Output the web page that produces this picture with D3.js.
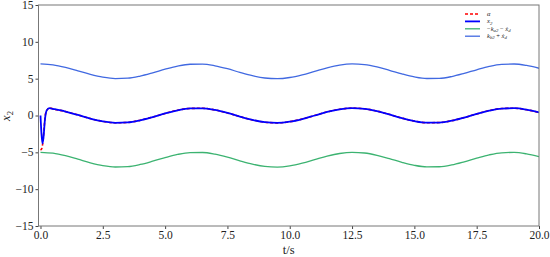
<!DOCTYPE html>
<html><head><meta charset="utf-8">
<script src="https://cdn.jsdelivr.net/npm/d3@7"></script>
<style>body{margin:0;background:#fff}svg{display:block}</style>
</head><body>
<svg id="c" width="550" height="257"></svg>
<script>
// time grid (s)
const tSmooth = [0,0.5,1,1.5,2,2.5,3,3.5,4,4.5,5,5.5,6,6.5,7,7.5,8,8.5,9,9.5,10,10.5,11,11.5,12,12.5,13,13.5,14,14.5,15,15.5,16,16.5,17,17.5,18,18.5,19,19.5,20];
const kbPlus = [7.00,6.88,6.54,6.07,5.58,5.20,5.01,5.06,5.35,5.79,6.28,6.71,6.96,6.98,6.75,6.35,5.85,5.40,5.09,5.00,5.16,5.52,6.00,6.48,6.84,7.00,6.91,6.60,6.14,5.65,5.24,5.02,5.04,5.29,5.72,6.21,6.66,6.94,6.99,6.79,6.41];
const kaMinus = [-5.00,-5.12,-5.46,-5.93,-6.42,-6.80,-6.99,-6.94,-6.65,-6.21,-5.72,-5.29,-5.04,-5.02,-5.25,-5.65,-6.15,-6.60,-6.91,-7.00,-6.84,-6.48,-6.00,-5.52,-5.16,-5.00,-5.09,-5.40,-5.86,-6.35,-6.76,-6.98,-6.96,-6.71,-6.28,-5.79,-5.34,-5.06,-5.01,-5.21,-5.59];
const tX2 = [0,0.04,0.08,0.12,0.18,0.25,0.35,0.5,1,1.5,2,2.5,3,3.5,4,4.5,5,5.5,6,6.5,7,7.5,8,8.5,9,9.5,10,10.5,11,11.5,12,12.5,13,13.5,14,14.5,15,15.5,16,16.5,17,17.5,18,18.5,19,19.5,20];
const x2 = [0,-2.5,-3.8,-3.0,-0.5,0.7,1.0,0.9,0.54,0.07,-0.42,-0.80,-0.99,-0.94,-0.65,-0.21,0.28,0.71,0.96,0.98,0.75,0.35,-0.15,-0.60,-0.91,-1.00,-0.84,-0.48,0.00,0.48,0.84,1.00,0.91,0.60,0.14,-0.35,-0.76,-0.98,-0.96,-0.71,-0.28,0.21,0.66,0.94,0.99,0.79,0.41];
const tAlpha = [0,0.05,0.1,0.15,0.2,0.3,0.4,0.5,1,1.5,2,2.5,3,3.5,4,4.5,5,5.5,6,6.5,7,7.5,8,8.5,9,9.5,10,10.5,11,11.5,12,12.5,13,13.5,14,14.5,15,15.5,16,16.5,17,17.5,18,18.5,19,19.5,20];
const alpha = [-4.7,-4.5,-3.5,-1.5,0.2,0.9,1.0,0.9,0.54,0.07,-0.42,-0.80,-0.99,-0.94,-0.65,-0.21,0.28,0.71,0.96,0.98,0.75,0.35,-0.15,-0.60,-0.91,-1.00,-0.84,-0.48,0.00,0.48,0.84,1.00,0.91,0.60,0.14,-0.35,-0.76,-0.98,-0.96,-0.71,-0.28,0.21,0.66,0.94,0.99,0.79,0.41];
const xTicks = [0,2.5,5,7.5,10,12.5,15,17.5,20];
const yTicks = [-15,-10,-5,0,5,10,15];

const svg = d3.select('#c');
const L = 38.5, R = 539, T = 5, B = 226;
const x = d3.scaleLinear().domain([-0.08,20]).range([L,R]);
const y = d3.scaleLinear().domain([-15,15]).range([B,T]);
const serif = "'Liberation Serif','DejaVu Serif',serif";

const xAx = svg.append('g').attr('transform',`translate(0,${B})`)
  .call(d3.axisBottom(x).tickValues(xTicks).tickFormat(d3.format('.1f')).tickSize(3).tickPadding(2));
const yAx = svg.append('g').attr('transform',`translate(${L},0)`)
  .call(d3.axisLeft(y).tickValues(yTicks).tickFormat(d=>d<0?'\u2212'+Math.abs(d):d).tickSize(3).tickPadding(2));
[xAx,yAx].forEach(a=>{a.select('.domain').remove();a.selectAll('line').attr('stroke','#444');
  a.selectAll('text').attr('font-family',serif).attr('font-size',11.5).attr('fill','#222');});
yAx.selectAll('text').attr('dy','0.3em');

const clip = svg.append('clipPath').attr('id','cp').append('rect').attr('x',L).attr('y',T).attr('width',R-L).attr('height',B-T);
const g = svg.append('g').attr('clip-path','url(#cp)');
const line = (ts)=>d3.line().x((d,i)=>x(ts[i])).y(d=>y(d)).curve(d3.curveMonotoneX);
g.append('path').datum(kaMinus).attr('d',line(tSmooth)).attr('fill','none').attr('stroke','#3cb371').attr('stroke-width',1.3);
g.append('path').datum(kbPlus).attr('d',line(tSmooth)).attr('fill','none').attr('stroke','#4169e1').attr('stroke-width',1.3);
g.append('path').datum(alpha).attr('d',line(tAlpha)).attr('fill','none').attr('stroke','#ff0000').attr('stroke-width',1.6).attr('stroke-dasharray','3,2');
g.append('path').datum(x2).attr('d',line(tX2)).attr('fill','none').attr('stroke','#0000ff').attr('stroke-width',1.8);

svg.append('rect').attr('x',L).attr('y',T).attr('width',R-L).attr('height',B-T)
  .attr('fill','none').attr('stroke','#777').attr('stroke-width',1);

svg.append('text').attr('x',(L+R)/2).attr('y',254).attr('text-anchor','middle')
  .attr('font-family',serif).attr('font-size',12.5).attr('fill','#222').text('t/s');
const yl = svg.append('text').attr('transform','translate(10,116) rotate(-90)').attr('text-anchor','middle')
  .attr('font-family',serif).attr('font-size',12.5).attr('font-style','italic').attr('fill','#222');
yl.append('tspan').text('x');
yl.append('tspan').attr('font-size',8.5).attr('font-style','normal').attr('dy',3).text('2');

// legend
const leg = [
  {c:'#ff0000', dash:'3,2', w:1.6, parts:[['α','i']]},
  {c:'#0000ff', dash:null, w:1.8, parts:[['x','i'],['2','s']]},
  {c:'#3cb371', dash:null, w:1.3, parts:[['\u2212','n'],['k','i'],['a2','s'],[' \u2212 ','n'],['\u1E8B','i'],['d','s']]},
  {c:'#4169e1', dash:null, w:1.3, parts:[['k','i'],['b2','s'],[' + ','n'],['\u1E8B','i'],['d','s']]}
];
leg.forEach((d,i)=>{
  const yy = 14 + i*7.4;
  const ln = svg.append('line').attr('x1',465).attr('x2',480).attr('y1',yy).attr('y2',yy)
    .attr('stroke',d.c).attr('stroke-width',d.w);
  if(d.dash) ln.attr('stroke-dasharray',d.dash);
  const t = svg.append('text').attr('x',487).attr('y',yy+2).attr('font-family',serif).attr('font-size',6.5).attr('fill','#222');
  let sub=false;
  d.parts.forEach(p=>{
    const s = t.append('tspan').text(p[0]);
    if(p[1]==='i') s.attr('font-style','italic');
    if(p[1]==='s'){s.attr('font-size',4.8).attr('font-style','italic'); if(!sub){s.attr('dy',1.2);sub=true;}}
    else if(sub){s.attr('dy',-1.2);sub=false;}
  });
});
</script>
</body></html>
